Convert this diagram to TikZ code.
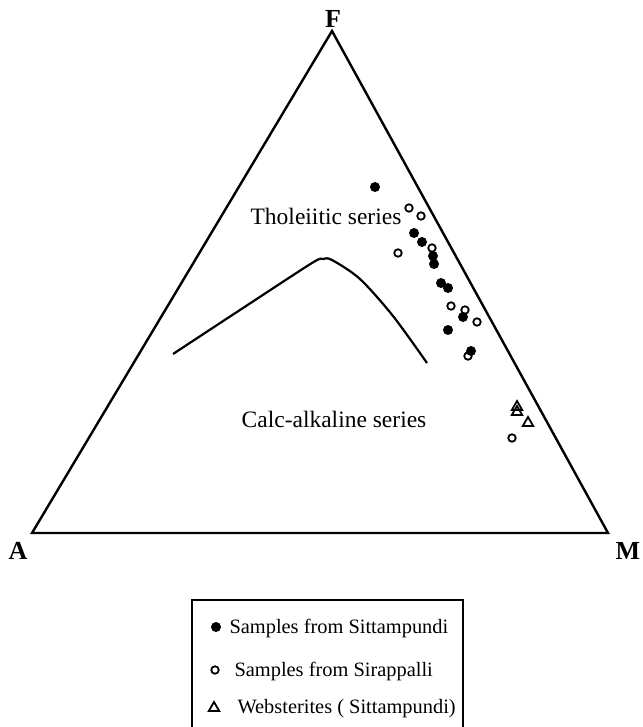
\documentclass[tikz,border=0pt]{standalone}
\usepackage{fontspec}
\setmainfont{Liberation Serif}
\usetikzlibrary{shapes.geometric}
\begin{document}
\begin{tikzpicture}[x=1pt, y=-1pt,
  corner/.style={font=\fontsize{26}{26}\selectfont\bfseries},
  series/.style={font=\fontsize{23.5}{27}\selectfont},
  keytext/.style={anchor=west, font=\fontsize{20.4}{23}\selectfont},
  sitta/.style={circle, fill, inner sep=0pt, minimum size=10pt},
  sira/.style={circle, draw, line width=1.8pt, inner sep=0pt, minimum size=7.5pt},
  webs/.style={regular polygon, regular polygon sides=3, draw, line width=1.8pt, inner sep=0pt, minimum size=12pt}]
  \useasboundingbox (0,0) rectangle (642,727);

  % Triangle
  \coordinate (A) at (32,533);
  \coordinate (M) at (608,533);
  \coordinate (F) at (332,31);
  \draw[line width=2.4pt] (A) -- (M) -- (F) -- cycle;
  \node[corner] (labF) at (333,19) {F};
  \node[corner] (labA) at (18,551) {A};
  \node[corner] (labM) at (628,551) {M};

  % Dividing line
  \draw[line width=2.2pt] plot[smooth, tension=0.5] coordinates
    {(173,354) (243,308) (312,263) (323,259) (332,260) (360,279) (393,316) (427,363)};
  \node[series] (thol) at (326,216) {Tholeiitic series};
  \node[series] (calc) at (334,419) {Calc-alkaline series};

  % Samples
  \foreach \x/\y [count=\i] in {375/187, 414/233, 422/242, 433/256, 434/264,
      441/283, 448/288, 463/317, 448/330, 471/351}
    \node[sitta] (st\i) at (\x,\y) {};
  \foreach \x/\y [count=\i] in {409/208, 421/216, 398/253, 432/248, 451/306,
      465/310, 477/322, 468/356, 512/438}
    \node[sira] (sr\i) at (\x,\y) {};
  \foreach \x/\y [count=\i] in {517/407, 517/412, 528/423}
    \node[webs] (wb\i) at (\x,\y) {};

  % Key
  \draw[line width=1.3pt] (192,600) rectangle (463,740);
  \node[sitta] (k1) at (216,627) {};
  \node[sira] (k2) at (215,670) {};
  \node[webs] (k3) at (214,708) {};
  \node[keytext] (t1) at (226,628) {Samples from Sittampundi};
  \node[keytext] (t2) at (231,671) {Samples from Sirappalli};
  \node[keytext] (t3) at (234,709) {Websterites ( Sittampundi)};
\end{tikzpicture}
\end{document}
